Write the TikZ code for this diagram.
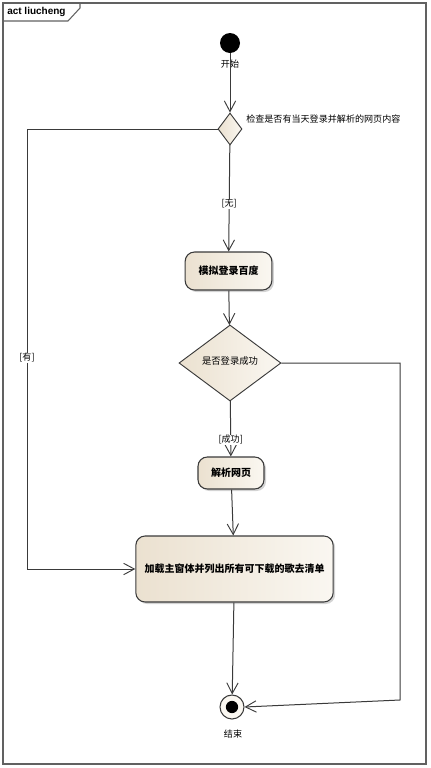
\documentclass[tikz,border=0pt]{standalone}
\usepackage{fontspec}
\setmainfont{Liberation Sans}
\newfontfamily\cjk{Noto Sans CJK SC}
\usetikzlibrary{positioning,shapes.geometric,arrows.meta,shadows}

\definecolor{umldark}{HTML}{EBE1D0}
\definecolor{umllight}{HTML}{FAF7F1}
\definecolor{umlline}{HTML}{3A3A3A}

\tikzset{
  action/.style={draw=umlline, line width=0.8pt, rounded corners=7pt,
    left color=umldark, right color=umllight,
    drop shadow={opacity=0.35, shadow xshift=1.5pt, shadow yshift=-1.5pt},
    font=\cjk\bfseries\fontsize{7.5}{9}\selectfont, inner sep=0pt},
  decision/.style={diamond, draw=umlline, line width=0.7pt,
    left color=umldark, right color=umllight, inner sep=0pt,
    font=\cjk\fontsize{7}{8}\selectfont},
  flow/.style={draw=umlline, line width=0.75pt,
    -{Straight Barb[length=8pt,width=8.5pt,line width=0.7pt]}},
  guard/.style={fill=white, inner sep=0.5pt, font=\cjk\fontsize{6.8}{8}\selectfont},
  caption/.style={inner sep=0pt, font=\cjk\fontsize{6.8}{8}\selectfont}
}

\begin{document}
\begin{tikzpicture}[x=0.75pt, y=-0.75pt]
  \useasboundingbox (0,0) rectangle (430,768);
  % frame and name tab
  \draw[umlline!80, line width=1pt] (3,3) rectangle (426,764);
  \draw[umlline!80, line width=0.8pt] (3,21) -- (68,21) -- (80,8) -- (80,3);
  \node[anchor=west, inner sep=0pt, font=\bfseries\fontsize{7.5}{9}\selectfont] (title) at (7,12) {act liucheng};

  % start and end
  \node[circle, fill=black, minimum size=15pt, inner sep=0pt] (start) at (230,43) {};
  \node[caption] (startlbl) at (230,64) {开始};
  \node[circle, draw=umlline, line width=0.8pt, fill=umllight, minimum size=18pt, inner sep=0pt] (end) at (232,707) {};
  \fill[black] (end) circle (4.6pt); % inner dot
  \node[caption] (endlbl) at (233,734) {结束};

  % decisions
  \node[decision, minimum width=18pt, minimum height=24pt] (check) at (230,129) {};
  \node[caption, anchor=west] (checklbl) at (246,119) {检查是否有当天登录并解析的网页内容};
  \node[decision, minimum width=76.5pt, minimum height=57pt] (login) at (230,363) {\raisebox{3pt}{是否登录成功}};

  % actions
  \node[action, minimum width=65pt, minimum height=28.5pt] (baidu) at (228.5,271) {模拟登录百度};
  \node[action, minimum width=49.5pt, minimum height=24pt] (parse) at (231,473) {解析网页};
  \node[action, minimum width=148pt, minimum height=49.5pt] (load) at (234.5,569) {加载主窗体并列出所有可下载的歌去清单};

  % bends
  \coordinate (lturn) at (27,569);
  \coordinate (rtop) at (400,363);
  \coordinate (rturn) at (400,700);

  % flows
  \draw[flow] (start) -- (check);
  \draw[flow] (check) -- node[guard, pos=0.55] {[无]} (baidu);
  \draw[flow] (check.west) -| node[guard, pos=0.76] {[有]} (lturn) -- (load.west);
  \draw[flow] (baidu) -- (login);
  \draw[flow] (login) -- node[guard, pos=0.7] {[成功]} (parse);
  \draw[flow] (login.east) -- (rtop) -- (rturn) -- (end.east);
  \draw[flow] (parse) -- (load);
  \draw[flow] (load) -- (end);
\end{tikzpicture}
\end{document}
